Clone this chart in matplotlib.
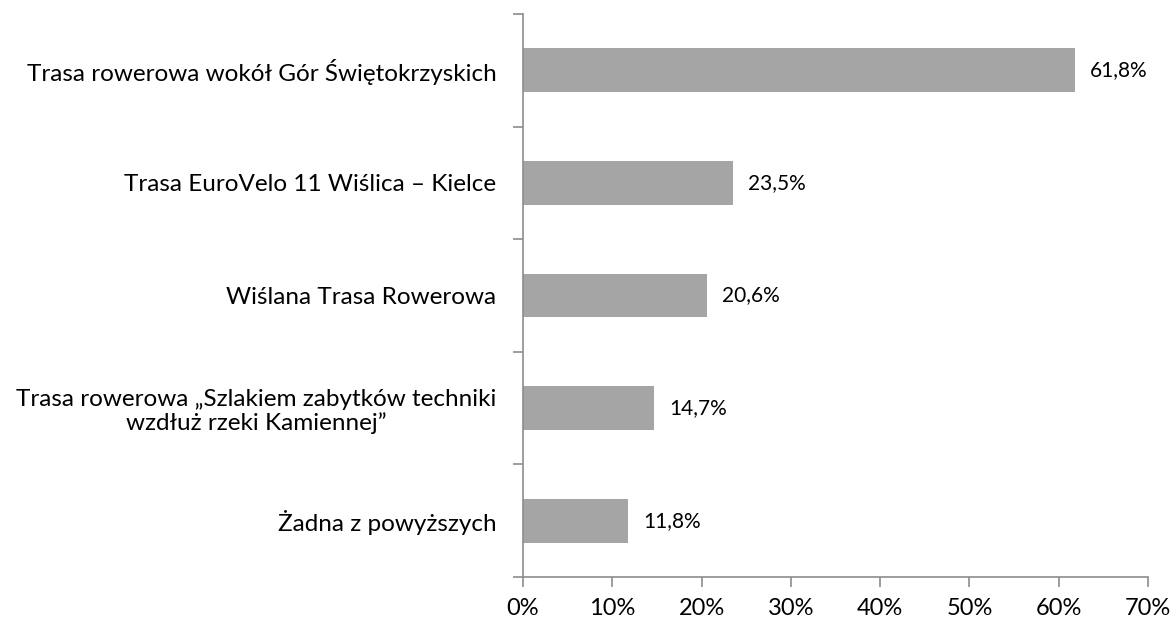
import matplotlib
matplotlib.use('Agg')
import matplotlib.pyplot as plt
from matplotlib.ticker import FuncFormatter

categories = [
    'Trasa rowerowa wokół Gór Świętokrzyskich',
    'Trasa EuroVelo 11 Wiślica – Kielce',
    'Wiślana Trasa Rowerowa',
    'Trasa rowerowa „Szlakiem zabytków techniki\nwzdłuż rzeki Kamiennej”',
    'Żadna z powyższych',
]
values = [61.8, 23.5, 20.6, 14.7, 11.8]
x_ticks = [0, 10, 20, 30, 40, 50, 60, 70]

plt.rcParams['font.family'] = ['Lato', 'DejaVu Sans']
axis_color = '#8c8c8c'

fig = plt.figure(figsize=(11.76, 6.22), dpi=100)
ax = fig.add_axes([0.4447, 0.0723, 0.9762 - 0.4447, 0.9775 - 0.0723])

pos = list(range(len(categories)))
ax.barh(pos, values, height=0.39, color='#a5a5a5')

for p, v in zip(pos, values):
    ax.text(v + 1.7, p, f'{v:.1f}%'.replace('.', ','), va='center', ha='left',
            fontsize=15, color='black')

ax.set_xlim(0, 70)
ax.set_ylim(len(categories) - 0.5, -0.5)
ax.set_xticks(x_ticks)
ax.xaxis.set_major_formatter(FuncFormatter(lambda x, _: f'{x:.0f}%'))

# category labels centred on bars, ticks between categories
ax.set_yticks([p + 0.5 for p in pos[:-1]] + [-0.5, len(categories) - 0.5])
ax.set_yticklabels([])
ax.set_yticks(pos, minor=True)
ax.set_yticklabels(categories, minor=True, fontsize=17.5, multialignment='center',
                   linespacing=1.15)
ax.tick_params(axis='y', which='minor', length=0, pad=19)
ax.tick_params(axis='y', which='major', length=7, color=axis_color, width=1.2)
ax.tick_params(axis='x', length=7, color=axis_color, width=1.2, labelsize=17, pad=8)

for s in ['top', 'right']:
    ax.spines[s].set_visible(False)
for s in ['left', 'bottom']:
    ax.spines[s].set_color(axis_color)
    ax.spines[s].set_linewidth(1.2)

fig.savefig('out.png', dpi=100)
